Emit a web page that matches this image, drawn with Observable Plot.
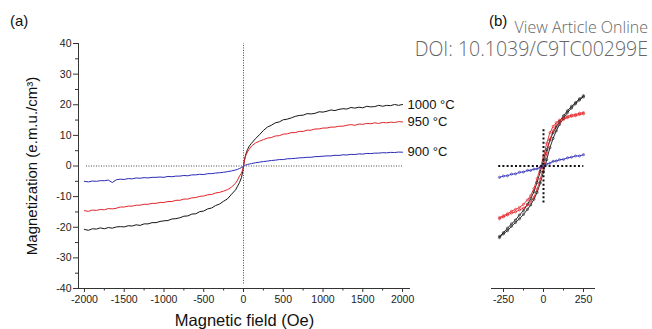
<!DOCTYPE html>
<html><head><meta charset="utf-8">
<script src="https://cdn.jsdelivr.net/npm/d3@7"></script>
<script src="https://cdn.jsdelivr.net/npm/@observablehq/plot@0.6"></script>
<style>
body{margin:0;background:#fff;}
#wrap{position:relative;width:652px;height:329px;overflow:hidden;font-family:"Liberation Sans",Arial,sans-serif;color:#111;}
#wrap svg{position:absolute;top:0;}
.lbl{position:absolute;line-height:1;white-space:nowrap;}
.wm{font-family:"Open Sans",sans-serif;color:#666;font-weight:300;}
</style></head><body>
<div id="wrap">
 <div class="lbl" style="left:10px;top:13px;font-size:15px">(a)</div>
 <div class="lbl" style="left:489px;top:13px;font-size:15px">(b)</div>
 <div class="lbl wm" style="right:4px;top:19px;font-size:16px;line-height:16px">View Article Online</div>
 <div class="lbl wm" style="right:4px;top:40px;font-size:19.5px;line-height:17px">DOI: 10.1039/C9TC00299E</div>
</div>
<script>
// ---- Panel (a) data: magnetic field (Oe) and magnetization (e.m.u./cm3)
const fields = [-2000,-1950,-1900,-1850,-1800,-1750,-1700,-1650,-1600,-1550,-1500,-1450,-1400,-1350,-1300,-1250,-1200,-1150,-1100,-1050,-1000,-950,-900,-850,-800,-750,-700,-650,-600,-550,-500,-450,-400,-350,-300,
 -250,-200,-150,-100,-75,-50,-25,-10,
 0,
 10,25,50,75,100,150,200,250,
 300,350,400,450,500,550,600,650,700,750,800,850,900,950,1000,1050,1100,1150,1200,1250,1300,1350,1400,1450,1500,1550,1600,1650,1700,1750,1800,1850,1900,1950,2000];
const m1000 = [-20.7,-21.0,-20.5,-20.6,-20.2,-20.5,-20.1,-20.3,-19.9,-19.8,-19.9,-19.5,-19.6,-19.2,-19.4,-18.9,-18.9,-18.5,-18.5,-18.1,-17.9,-17.8,-17.3,-17.2,-16.9,-16.4,-16.3,-15.7,-15.6,-14.9,-14.7,-14.0,-13.7,-12.9,-12.4,
 -11.5,-10.7,-9.2,-7.8,-6.6,-5.4,-3.7,-1.8,
 0,
 1.7,3.5,5.4,6.6,7.4,8.9,10.2,11.6,
 12.7,13.3,14.1,14.4,15.1,15.3,15.7,16.2,16.5,16.6,17.1,17.0,17.2,17.7,17.6,17.9,18.3,18.1,18.5,18.7,18.6,19.1,18.9,19.2,19.0,19.5,19.3,19.4,19.8,19.5,19.8,19.7,20.1,19.8,20.1];
const m950 = [-14.6,-14.8,-14.4,-14.5,-14.2,-14.3,-13.9,-14.0,-13.8,-13.4,-13.4,-13.1,-13.1,-12.8,-12.8,-12.5,-12.5,-12.2,-12.2,-11.9,-11.9,-11.6,-11.6,-11.2,-11.2,-10.8,-10.8,-10.4,-10.3,-9.9,-9.8,-9.4,-9.3,-8.8,-8.6,
 -8.2,-7.7,-6.9,-5.6,-4.6,-3.3,-2.3,-1.2,
 0,
 1.5,3.2,4.6,5.6,6.5,7.5,8.1,8.6,
 9.1,9.3,9.8,9.9,10.4,10.5,10.9,10.9,11.3,11.3,11.7,11.7,12.1,12.1,12.4,12.4,12.7,12.7,13.0,13.0,13.3,13.5,13.3,13.7,13.6,13.9,13.8,14.1,13.9,14.2,14.1,14.3,14.2,14.5,14.4];
const m900 = [-5.0,-5.2,-4.9,-5.0,-4.8,-4.8,-4.6,-5.4,-4.5,-4.3,-4.4,-4.1,-4.2,-3.9,-4.0,-3.8,-3.9,-3.7,-3.7,-3.6,-3.7,-3.4,-3.5,-3.3,-3.3,-3.1,-3.2,-2.9,-2.9,-2.7,-2.8,-2.5,-2.5,-2.3,-2.2,
 -2.05,-1.85,-1.6,-1.3,-1.1,-0.8,-0.5,-0.3,
 0,
 0.1,0.3,0.5,0.65,0.8,1.05,1.25,1.45,
 1.6,1.8,1.9,2.1,2.1,2.35,2.4,2.5,2.65,2.7,2.85,2.85,3.05,3.1,3.2,3.3,3.3,3.5,3.45,3.65,3.6,3.8,3.75,3.95,3.9,4.1,4.05,4.2,4.2,4.35,4.3,4.45,4.4,4.55,4.5];
const seriesNames = ["1000 °C", "950 °C", "900 °C"];
const seriesColors = ["#161616", "#e2252a", "#2a2ab4"];

// ---- Panel (b) data: low-field zoom, two loop branches
const fieldsB = [-275,-250,-225,-200,-175,-150,-125,-100,-80,-60,-40,-20,0,20,40,60,80,100,125,150,175,200,225,250];
const b1000A = [-11.2,-10.6,-9.9,-9.2,-8.6,-7.8,-7.1,-6.1,-5.2,-4.1,-2.6,-0.9,0.9,2.6,4.1,5.3,6.2,7.1,8.0,8.8,9.5,10.1,10.7,11.2];
const b1000B = [-11.4,-10.8,-10.3,-9.6,-9.0,-8.4,-7.7,-6.9,-6.2,-5.3,-4.2,-2.7,-0.9,1.0,2.9,4.4,5.6,6.6,7.6,8.5,9.2,9.9,10.5,11.0];
const b950A = [-8.2,-7.9,-7.6,-7.2,-6.9,-6.6,-6.1,-5.4,-4.7,-3.6,-2.0,-0.3,1.5,3.6,5.3,6.3,6.9,7.3,7.6,7.9,8.1,8.2,8.4,8.5];
const b950B = [-8.4,-8.1,-7.8,-7.5,-7.3,-7.0,-6.7,-6.2,-5.7,-5.0,-3.7,-2.1,-0.3,2.0,4.2,5.6,6.5,6.9,7.4,7.7,7.9,8.0,8.2,8.3];
const b900 = [-1.8,-1.6,-1.55,-1.3,-1.25,-1.0,-0.95,-0.7,-0.7,-0.5,-0.45,-0.15,0,0.3,0.45,0.75,0.8,1.0,1.05,1.3,1.4,1.6,1.6,1.8];

// ---- Tick values
const xMajor = [-2000,-1500,-1000,-500,0,500,1000,1500,2000];
const xMinor = [-1750,-1250,-750,-250,250,750,1250,1750];
const yMajor = [-40,-30,-20,-10,0,10,20,30,40];
const yMinor = [-35,-25,-15,-5,5,15,25,35];
const xMajorB = [-250,0,250];
const xMinorB = [-125,125];

const FONT = "Liberation Sans, Arial, sans-serif";
const valuesA = [m1000, m950, m900];
const rowsA = valuesA.map(v => fields.map((h, i) => ({h, m: v[i]})));
const endLabels = seriesNames.map((name, k) => ({name, h: fields[fields.length - 1], m: valuesA[k][valuesA[k].length - 1]}));

const plotA = Plot.plot({
  width: 460, height: 329,
  marginLeft: 78, marginRight: 50, marginTop: 43, marginBottom: 41,
  x: {domain: [-2075, 2100], label: null},
  y: {domain: [-40, 40], label: null},
  style: {fontFamily: FONT, fontSize: "10.5px", color: "#222", background: "transparent", overflow: "visible"},
  marks: [
    Plot.ruleY([0], {x1: -1975, x2: 2010, stroke: "#444", strokeWidth: 1, strokeDasharray: "1,1.5"}),
    Plot.ruleX([0], {y1: -38.5, y2: 40, stroke: "#444", strokeWidth: 1, strokeDasharray: "1,1.5"}),
    ...rowsA.map((rows, k) => Plot.line(rows, {x: "h", y: "m", stroke: seriesColors[k], strokeWidth: 1})),
    Plot.text(endLabels, {x: "h", y: "m", text: "name", dx: 5, textAnchor: "start", fontSize: 13, fill: "#111"}),
    Plot.ruleX([-2075], {y1: -40, y2: 40, stroke: "#333"}),
    Plot.ruleY([-40], {x1: -2075, x2: 2100, stroke: "#333"}),
    Plot.axisY({ticks: yMajor, tickSize: 5, tickPadding: 2, tickFormat: d => String(d), label: null, stroke: "#333"}),
    Plot.axisY({ticks: yMinor, tickSize: 3, tickFormat: () => "", label: null, stroke: "#333"}),
    Plot.axisX({ticks: xMajor, tickSize: 4, tickPadding: 3, tickFormat: d => String(d), label: null, stroke: "#333"}),
    Plot.axisX({ticks: xMinor, tickSize: 2.5, tickFormat: () => "", label: null, stroke: "#333"}),
    Plot.text(["Magnetization (e.m.u./cm³)"], {text: d => d, frameAnchor: "left", textAnchor: "middle", lineAnchor: "middle", dx: -46, rotate: -90, fontSize: 15, fill: "#111"}),
    Plot.text(["Magnetic field (Oe)"], {text: d => d, frameAnchor: "bottom", lineAnchor: "middle", dy: 32, fontSize: 16.5, fill: "#111"})
  ]
});
plotA.style.left = "0px";

const branchesB = [
  {v: b1000A, c: seriesColors[0]}, {v: b1000B, c: seriesColors[0]},
  {v: b950A, c: seriesColors[1]}, {v: b950B, c: seriesColors[1]},
  {v: b900, c: seriesColors[2]}
];
const rowsB = branchesB.map(b => fieldsB.map((h, i) => ({h, m: b.v[i]})));

const plotB = Plot.plot({
  width: 192, height: 329,
  marginLeft: 31, marginRight: 57, marginTop: 43, marginBottom: 41,
  x: {domain: [-325, 325], label: null},
  y: {domain: [-19.5, 19.5], label: null, axis: null},
  style: {fontFamily: FONT, fontSize: "10.5px", color: "#222", background: "transparent", overflow: "visible"},
  marks: [
    ...rowsB.map((rows, k) => Plot.line(rows, {x: "h", y: "m", stroke: branchesB[k].c, strokeWidth: 0.9})),
    ...rowsB.map((rows, k) => Plot.dot(rows, {x: "h", y: "m", r: 1.1, stroke: branchesB[k].c, strokeWidth: 0.6, fill: "none"})),
    Plot.ruleY([0], {x1: -280, x2: 252, stroke: "#111", strokeWidth: 2, strokeDasharray: "2,2.2"}),
    Plot.ruleX([0], {y1: -5.9, y2: 6.05, stroke: "#111", strokeWidth: 2, strokeDasharray: "2,2.2"}),
    Plot.ruleY([-19.5], {x1: -325, x2: 325, stroke: "#333"}),
    Plot.axisX({ticks: xMajorB, tickSize: 4, tickPadding: 3, tickFormat: d => String(d), label: null, stroke: "#333"}),
    Plot.axisX({ticks: xMinorB, tickSize: 2.5, tickFormat: () => "", label: null, stroke: "#333"})
  ]
});
plotB.style.left = "460px";

const wrap = document.getElementById("wrap");
wrap.appendChild(plotA);
wrap.appendChild(plotB);
</script>
</body></html>
